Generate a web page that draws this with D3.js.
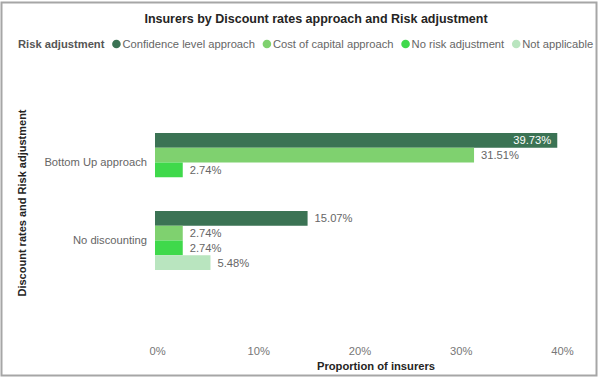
<!DOCTYPE html>
<html><head><meta charset="utf-8">
<script src="https://cdn.jsdelivr.net/npm/d3@7/dist/d3.min.js"></script>
<style>
html,body{margin:0;padding:0;background:#fff;}
svg{display:block;font-family:"Liberation Sans",Arial,sans-serif;}
</style></head>
<body>
<svg id="c" width="600" height="381"></svg>
<script>
const categories = ["Bottom Up approach", "No discounting"];
const seriesNames = ["Confidence level approach", "Cost of capital approach", "No risk adjustment", "Not applicable"];
const seriesColors = ["#3b7354", "#7fd16f", "#3fd94b", "#b9e5bf"];
const bottomUpValues = [39.73, 31.51, 2.74, null];
const noDiscountingValues = [15.07, 2.74, 2.74, 5.48];
const xTicks = [0, 10, 20, 30, 40];

const valuesByCat = [bottomUpValues, noDiscountingValues];
const svg = d3.select("#c");
const FS = 11.2;

// frame
svg.append("rect").attr("x",1.5).attr("y",2.5).attr("width",595).attr("height",373)
  .attr("fill","#fff").attr("stroke","#a6a6a6").attr("stroke-width",2);

// title
svg.append("text").attr("x",316).attr("y",23).attr("text-anchor","middle")
  .attr("font-size",12.5).attr("font-weight","bold").attr("fill","#252423")
  .text("Insurers by Discount rates approach and Risk adjustment");

// legend
const lg = svg.append("g");
let lx = 18; const ly = 48;
const lt = lg.append("text").attr("x",lx).attr("y",ly).attr("font-size",FS).attr("font-weight","bold")
  .attr("fill","#555").text("Risk adjustment");
lx += lt.node().getComputedTextLength() + 8;
seriesNames.forEach((s,i)=>{
  lg.append("circle").attr("cx",lx+4).attr("cy",ly-4).attr("r",4.3).attr("fill",seriesColors[i]);
  const t = lg.append("text").attr("x",lx+10).attr("y",ly).attr("font-size",FS).attr("fill","#666").text(s);
  lx += 10 + t.node().getComputedTextLength() + 8;
});

// scales
const x = d3.scaleLinear().domain([0,40]).range([155,560]);
const y = d3.scaleBand().domain(categories).range([114,289]).paddingInner(0.2436).paddingOuter(0.2436);
const ys = d3.scaleBand().domain(seriesNames).range([0,y.bandwidth()]).padding(0);

// x axis
const xa = svg.append("g").attr("transform","translate(2,347)")
  .call(d3.axisBottom(x).tickValues(xTicks).tickFormat(d=>d+"%").tickSize(0).tickPadding(0));
xa.select(".domain").remove();
xa.selectAll("text").attr("font-size",FS).attr("fill","#777").attr("font-family","Liberation Sans, Arial, sans-serif").attr("dy","0.71em");

// y axis labels
const ya = svg.append("g").attr("transform","translate(147,0)")
  .call(d3.axisLeft(y).tickSize(0).tickPadding(0));
ya.select(".domain").remove();
ya.selectAll("text").attr("font-size",FS).attr("fill","#666").attr("font-family","Liberation Sans, Arial, sans-serif");

// bars
categories.forEach((c,ci)=>{
  const g = svg.append("g").attr("transform",`translate(0,${y(c)})`);
  valuesByCat[ci].forEach((v,si)=>{
    if(v==null) return;
    const s = seriesNames[si];
    g.append("rect").attr("x",x(0)).attr("y",ys(s)).attr("width",x(v)-x(0)).attr("height",ys.bandwidth())
      .attr("fill",seriesColors[si]);
    const label = v.toFixed(2)+"%";
    const t = g.append("text").attr("y",ys(s)+ys.bandwidth()/2).attr("dy","0.35em").attr("font-size",FS).text(label);
    const w = t.node().getComputedTextLength();
    if (x(v) + 7 + w > 560) {
      t.attr("x",x(v)-6).attr("text-anchor","end").attr("fill","#fff");
    } else {
      t.attr("x",x(v)+7).attr("fill","#666");
    }
  });
});

// axis titles
svg.append("text").attr("x",376).attr("y",370).attr("text-anchor","middle").attr("font-size",FS)
  .attr("font-weight","bold").attr("fill","#252423").text("Proportion of insurers");
svg.append("text").attr("transform","translate(26,203) rotate(-90)").attr("text-anchor","middle").attr("font-size",11)
  .attr("font-weight","bold").attr("fill","#252423").text("Discount rates and Risk adjustment");
</script>
</body></html>
